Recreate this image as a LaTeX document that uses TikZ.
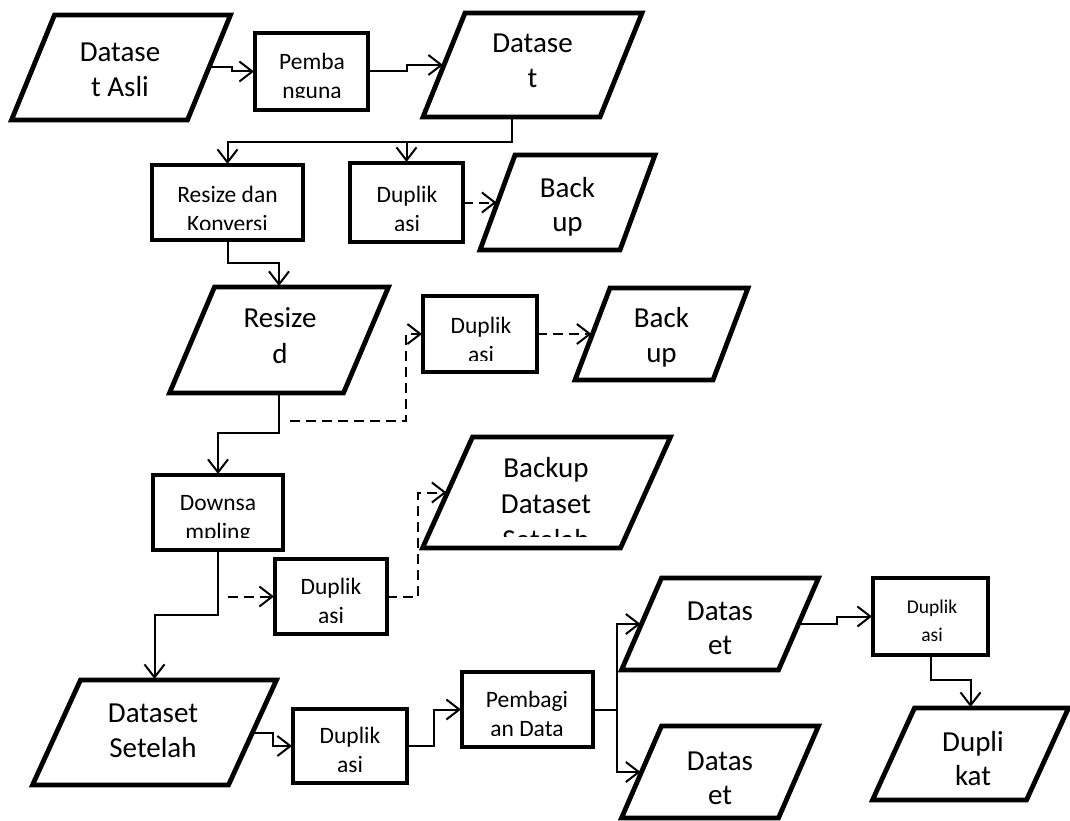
\documentclass[tikz,border=0pt]{standalone}
\usepackage{fontspec}
\setmainfont{Carlito}
\usetikzlibrary{calc,arrows.meta}

% parallelogram: name, centre, edge width, slant offset, height
\newcommand\plgram[5]{%
  \node[pbox,minimum width={#3+#4},minimum height=#5] (#1) at (#2) {};
  \draw[pline] ($(#1.north west)+(#4,0)$) -- (#1.north east)
    -- ($(#1.south east)-(#4,0)$) -- (#1.south west) -- cycle;
  \coordinate (#1-l) at ($(#1.west)+(#4/2,0)$);
  \coordinate (#1-r) at ($(#1.east)-(#4/2,0)$);
}

\begin{document}
\begin{tikzpicture}[x=1pt,y=-1pt,
  boxnode/.style={draw,line width=4.8pt,inner sep=0pt,outer sep=0pt},
  pbox/.style={inner sep=0pt,outer sep=0pt},
  pline/.style={line width=4.8pt,line join=miter},
  conn/.style={line width=2pt,shorten >=1pt,-{Straight Barb[length=13pt,width=20pt]}},
  dconn/.style={conn,dash pattern=on 10pt off 6pt},
  big/.style={font=\fontsize{29}{35}\selectfont,inner sep=0pt,anchor=base},
  small/.style={font=\fontsize{23.5}{29}\selectfont,inner sep=0pt,anchor=base},
  tiny/.style={font=\fontsize{19.5}{25}\selectfont,inner sep=0pt,anchor=base},
]
\fill[white] (0,0) rectangle (1070,821);
\useasboundingbox (0,0) rectangle (1070,821);

% ---- process boxes
\node[boxnode,minimum width=113,minimum height=77] (R1) at (311.5,71.5) {};
\node[boxnode,minimum width=151,minimum height=75] (R2) at (227.5,202.5) {};
\node[boxnode,minimum width=113,minimum height=79] (R3) at (406.5,202.5) {};
\node[boxnode,minimum width=114,minimum height=76] (R4) at (480,334) {};
\node[boxnode,minimum width=130,minimum height=75] (R5) at (218,512.5) {};
\node[boxnode,minimum width=112,minimum height=75] (R6) at (331,596.5) {};
\node[boxnode,minimum width=114,minimum height=74] (R7) at (350,746) {};
\node[boxnode,minimum width=131,minimum height=75] (R8) at (527.5,709.5) {};
\node[boxnode,minimum width=115,minimum height=77] (R9) at (930.5,616.5) {};

% ---- data parallelograms
\plgram{P1}{121,67.5}{176}{43}{105}
\plgram{P2}{532.5,65}{177}{42}{104}
\plgram{P3}{567.5,202.5}{140}{35}{95}
\plgram{P4}{279,340}{174}{45}{106}
\plgram{P5}{661.5,334}{138}{35}{92}
\plgram{P6}{546.5,492.5}{198}{50}{111}
\plgram{P7}{154.5,732.5}{196}{48}{105}
\plgram{P8}{720,624}{157}{40}{92}
\plgram{P9}{720,772}{157}{40}{92}
\plgram{P10}{970.5,754}{154}{42}{92}

% ---- labels (text areas cut off at their lower edge)
\node[big] (P1a) at (120,62) {Datase};
\node[big] (P1b) at (120,97) {t Asli};
\node[big] (P2a) at (532.5,53) {Datase};
\node[big] (P2b) at (532.5,88) {t};
\node[big] (P3a) at (567.5,197) {Back};
\node[big] (P3b) at (567.5,231) {up};
\node[big] (P4a) at (280,327) {Resize};
\node[big] (P4b) at (280,363) {d};
\node[big] (P5a) at (661.5,327) {Back};
\node[big] (P5b) at (661.5,362) {up};
\node[big] (P6a) at (546,477) {Backup};
\node[big] (P6b) at (546,513) {Dataset};
\begin{scope}
  \clip (420,520) rectangle (680,536);
  \node[big] (P6c) at (546,549) {Setelah};
\end{scope}
\node[big] (P7a) at (153,722) {Dataset};
\node[big] (P7b) at (153,757) {Setelah};
\node[big] (P8a) at (720,620) {Datas};
\node[big] (P8b) at (720,654) {et};
\node[big] (P9a) at (720,770) {Datas};
\node[big] (P9b) at (720,804) {et};
\node[big] (P10a) at (973,751) {Dupli};
\node[big] (P10b) at (973,785) {kat};

\node[small] (R1a) at (312,70) {Pemba};
\begin{scope}
  \clip (255,75) rectangle (368,98);
  \node[small] (R1b) at (312,99) {nguna};
\end{scope}
\node[small] (R2a) at (227.5,202) {Resize dan};
\begin{scope}
  \clip (152,205) rectangle (303,229);
  \node[small] (R2b) at (227.5,231) {Konversi};
\end{scope}
\node[small] (R3a) at (407,202) {Duplik};
\begin{scope}
  \clip (350,205) rectangle (463,230);
  \node[small] (R3b) at (407,231) {asi};
\end{scope}
\node[small] (R4a) at (481,333) {Duplik};
\begin{scope}
  \clip (423,336) rectangle (537,360);
  \node[small] (R4b) at (481,362) {asi};
\end{scope}
\node[small] (R5a) at (218,510) {Downsa};
\begin{scope}
  \clip (153,514) rectangle (283,537);
  \node[small] (R5b) at (218,539) {mpling};
\end{scope}
\node[small] (R6a) at (331,594) {Duplik};
\begin{scope}
  \clip (275,598) rectangle (387,622);
  \node[small] (R6b) at (331,623) {asi};
\end{scope}
\node[small] (R7a) at (350,743) {Duplik};
\node[small] (R7b) at (350,772) {asi};
\node[small] (R8a) at (527,707) {Pembagi};
\begin{scope}
  \clip (462,711) rectangle (593,735);
  \node[small] (R8b) at (527,736) {an Data};
\end{scope}
\node[tiny] (R9a) at (932,613) {Duplik};
\begin{scope}
  \clip (873,617) rectangle (988,641);
  \node[tiny] (R9b) at (932,641) {asi};
\end{scope}

% ---- connectors
\draw[conn] (P1-r) -- ++(23,0) |- (R1.west);
\draw[conn] (R1.east) -- ++(39,0) |- (P2-l);
\draw[conn] ($(P2.south)+(-21,0)$) -- ++(0,25) coordinate (j1) -| (R2.north);
\draw[conn] (j1 -| R3.north) -- (R3.north);
\draw[dconn] (R3.east) -- (P3-l);
\draw[conn] (R2.south) -- ++(0,23) -| (P4.north);
\draw[conn] (P4.south) -- ++(0,40) -| (R5.north);
\coordinate (d1) at ($(P4.south)+(11,28)$);
\draw[dconn] (d1) -- ++(116,0) |- (R4.west);
\draw[dconn] (R4.east) -- (P5-l);
\draw[conn] (R5.south) -- ++(0,65) -| (P7.north);
\coordinate (d2) at ($(R5.south)+(10,46.5)$);
\draw[dconn] (d2) -- (R6.west);
\draw[dconn] (R6.east) -- ++(31,0) |- (P6-l);
\draw[conn] (P7-r) -- ++(20,0) |- (R7.west);
\draw[conn] (R7.east) -- ++(27,0) |- (R8.west);
\draw[line width=2pt] (R8.east) -- ++(24,0) coordinate (j4);
\draw[conn] (j4) |- (P8-l);
\draw[conn] (j4) |- (P9-l);
\draw[conn] (P8-r) -- ++(38,0) |- (R9.west);
\draw[conn] (R9.south) -- ++(0,25) -| (P10.north);
\end{tikzpicture}
\end{document}
